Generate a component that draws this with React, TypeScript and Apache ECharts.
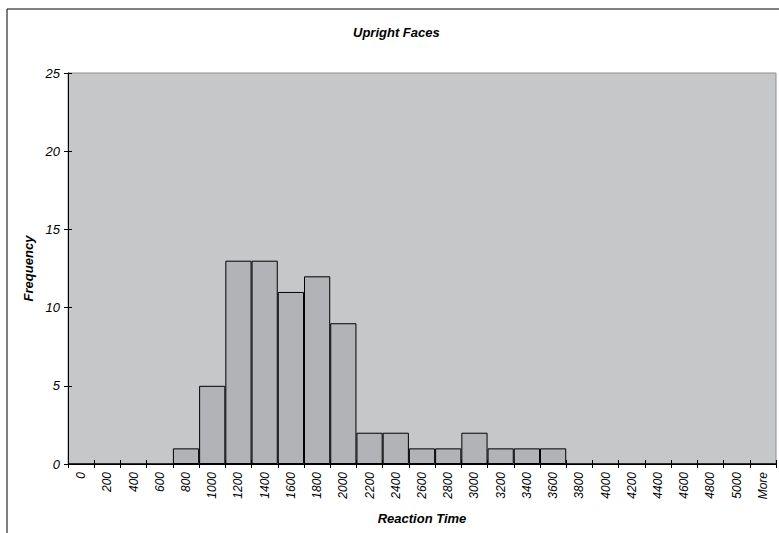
import React, { useEffect, useRef } from "react";
import * as echarts from "echarts";

const categories = [
  "0", "200", "400", "600", "800", "1000", "1200", "1400", "1600", "1800",
  "2000", "2200", "2400", "2600", "2800", "3000", "3200", "3400", "3600", "3800",
  "4000", "4200", "4400", "4600", "4800", "5000", "More",
];
const frequencies = [
  0, 0, 0, 0, 1, 5, 13, 13, 11, 12,
  9, 2, 2, 1, 1, 2, 1, 1, 1, 0,
  0, 0, 0, 0, 0, 0, 0,
];
const yTicks = { min: 0, max: 25, interval: 5 };

const FONT = "Liberation Sans, Arial, sans-serif";

export default function App() {
  const ref = useRef<HTMLDivElement>(null);
  useEffect(() => {
    if (!ref.current) return;
    const chart = echarts.init(ref.current, undefined, { renderer: "svg" });
    const tickLabel = { fontFamily: FONT, fontStyle: "italic", color: "#000" };
    const nameStyle = { fontFamily: FONT, fontSize: 13, fontWeight: "bold", fontStyle: "italic", color: "#000" };
    chart.setOption({
      animation: false,
      backgroundColor: "#fff",
      textStyle: { fontFamily: FONT },
      title: {
        text: "Upright Faces",
        left: 353,
        top: 26,
        padding: 0,
        textStyle: nameStyle,
      },
      graphic: [
        {
          type: "rect",
          shape: { x: 7, y: 9, width: 1000, height: 1000 },
          style: { fill: "none", stroke: "#000", lineWidth: 1 },
          silent: true,
        },
      ],
      grid: {
        left: 68,
        right: 3,
        top: 73,
        bottom: 69,
        show: true,
        backgroundColor: "#C6C7C9",
        borderColor: "#8E8E8E",
        borderWidth: 1,
      },
      xAxis: [
        {
          type: "category",
          data: categories,
          boundaryGap: true,
          axisLine: { show: true, lineStyle: { color: "#000", width: 1 } },
          axisTick: { show: true, length: 4, interval: 0, lineStyle: { color: "#000" } },
          axisLabel: { ...tickLabel, fontSize: 12, rotate: 90, interval: 0, margin: 8 },
          splitLine: { show: false },
          name: "Reaction Time",
          nameLocation: "middle",
          nameGap: 48,
          nameTextStyle: nameStyle,
        },
        {
          type: "category",
          data: categories,
          position: "bottom",
          boundaryGap: true,
          axisLine: { show: false },
          axisTick: { show: true, inside: true, length: 4, interval: 0, lineStyle: { color: "#000" } },
          axisLabel: { show: false },
          splitLine: { show: false },
        },
      ],
      yAxis: [
        {
          type: "value",
          ...yTicks,
          axisLine: { show: true, lineStyle: { color: "#000", width: 1 } },
          axisTick: { show: true, length: 4, lineStyle: { color: "#000" } },
          axisLabel: { ...tickLabel, fontSize: 13, margin: 8 },
          splitLine: { show: false },
          name: "Frequency",
          nameLocation: "middle",
          nameGap: 32,
          nameTextStyle: nameStyle,
        },
        {
          type: "value",
          ...yTicks,
          position: "left",
          axisLine: { show: false },
          axisTick: { show: true, inside: true, length: 4, lineStyle: { color: "#000" } },
          axisLabel: { show: false },
          splitLine: { show: false },
        },
      ],
      series: [
        {
          type: "bar",
          data: frequencies,
          barCategoryGap: "0%",
          barGap: "0%",
          itemStyle: { color: "#B2B3B7", borderColor: "#000", borderWidth: 1 },
        },
      ],
    });
    return () => chart.dispose();
  }, []);
  return (
    <div
      ref={ref}
      style={{ position: "fixed", left: 0, top: 0, width: 779, height: 533 }}
    />
  );
}
